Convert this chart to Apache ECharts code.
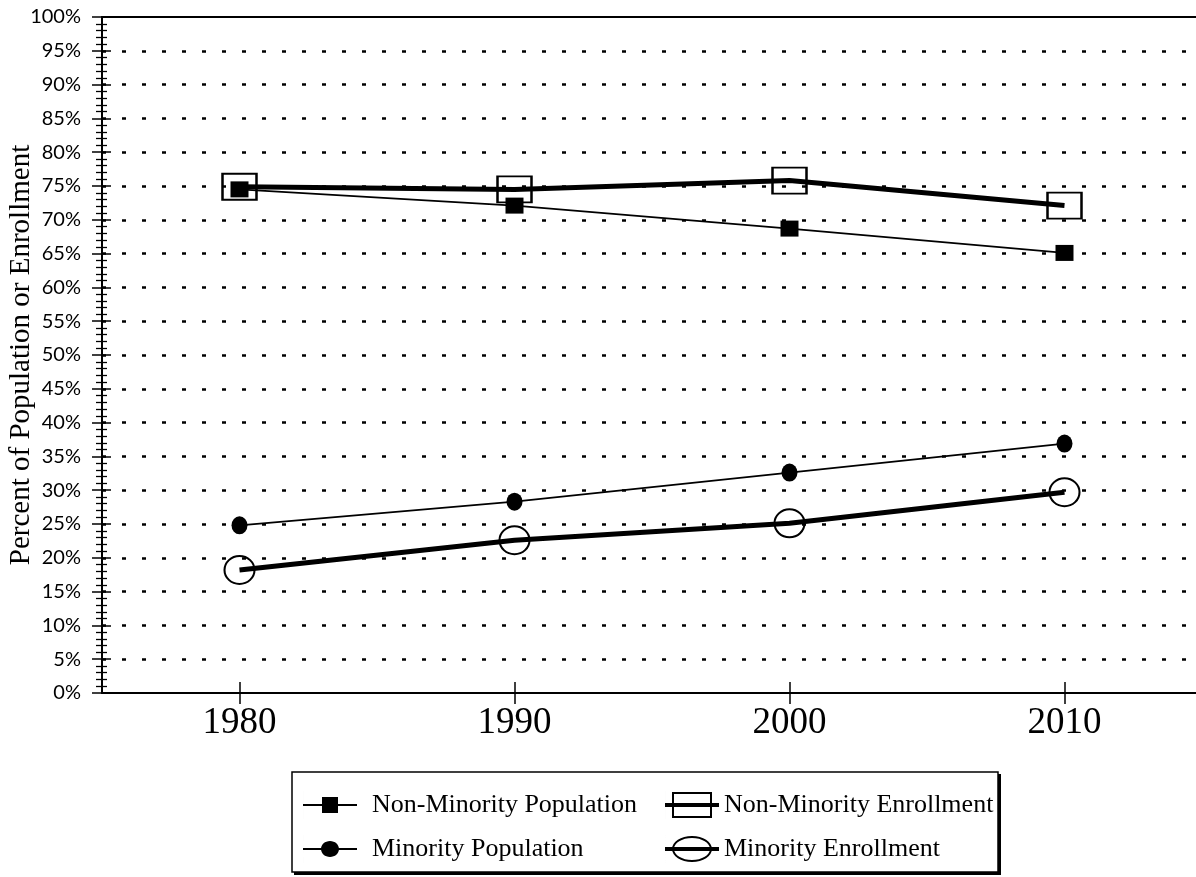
<!DOCTYPE html>
<html>
<head>
<meta charset="utf-8">
<script src="https://cdn.jsdelivr.net/npm/echarts@6/dist/echarts.min.js"></script>
<style>
  html, body { margin: 0; padding: 0; background: #fff; }
  #chart { width: 1196px; height: 877px; }
</style>
</head>
<body>
<div id="chart"></div>
<script>
// data
const years = [1980, 1990, 2000, 2010];
const nonMinorityPopulation = [74.5, 72.1, 68.7, 65.1];
const nonMinorityEnrollment = [74.9, 74.5, 75.8, 72.1];
const minorityPopulation = [24.8, 28.3, 32.6, 36.9];
const minorityEnrollment = [18.2, 22.6, 25.1, 29.7];

const serif = '"Liberation Serif", "DejaVu Serif", serif';
const sans = 'Lato, "Noto Sans", sans-serif';

const pairs = vals => years.map((y, i) => [y, vals[i]]);

// ellipse as bezier path, reverse = true for a hole
function ellipse(cx, cy, rx, ry, reverse) {
  const k = 0.5523, kx = k * rx, ky = k * ry;
  if (!reverse) {
    return `M${cx - rx},${cy}C${cx - rx},${cy - ky} ${cx - kx},${cy - ry} ${cx},${cy - ry}` +
      `C${cx + kx},${cy - ry} ${cx + rx},${cy - ky} ${cx + rx},${cy}` +
      `C${cx + rx},${cy + ky} ${cx + kx},${cy + ry} ${cx},${cy + ry}` +
      `C${cx - kx},${cy + ry} ${cx - rx},${cy + ky} ${cx - rx},${cy}Z`;
  }
  return `M${cx - rx},${cy}C${cx - rx},${cy + ky} ${cx - kx},${cy + ry} ${cx},${cy + ry}` +
    `C${cx + kx},${cy + ry} ${cx + rx},${cy + ky} ${cx + rx},${cy}` +
    `C${cx + rx},${cy - ky} ${cx + kx},${cy - ry} ${cx},${cy - ry}` +
    `C${cx - kx},${cy - ry} ${cx - rx},${cy - ky} ${cx - rx},${cy}Z`;
}

// legend icons: line with marker, 54 x 28 box
const frame = 'M0,0L0.01,0L0.01,28L0,28Z ';
const iconFilledSquare = 'path://' + frame + 'M0,13L54,13L54,15L0,15Z M19,6L35,6L35,22L19,22Z';
const iconFilledCircle = 'path://' + frame + 'M0,13L54,13L54,15L0,15Z ' + ellipse(27, 14, 9, 8);
const iconOpenSquare = 'path://' + frame + 'M7,1L47,1L47,27L7,27Z M9,25L45,25L45,3L9,3Z M0,12L54,12L54,16L0,16Z';
const iconOpenCircle = 'path://' + frame + ellipse(27, 14, 20, 13) + ' ' + ellipse(27, 14, 18, 11, true) + ' M0,12L54,12L54,16L0,16Z';

const chart = echarts.init(document.getElementById('chart'));

const xBase = {
  type: 'value',
  min: 1975,
  max: 2015,
  splitLine: { show: false },
  axisLine: { show: true, lineStyle: { color: '#000', width: 2 } }
};

const yBase = {
  type: 'value',
  min: 0,
  max: 100,
  interval: 5,
  position: 'left',
  axisLine: { show: true, lineStyle: { color: '#000', width: 2 } }
};

const legendBase = {
  orient: 'vertical',
  top: 786,
  itemWidth: 54, itemHeight: 28, itemGap: 16,
  itemStyle: { color: '#000', borderWidth: 0 }
};

chart.setOption({
  animation: false,
  grid: { left: 102, right: -6, top: 17, bottom: 184, containLabel: false, outerBoundsMode: 'none' },
  xAxis: [
    Object.assign({}, xBase, {
      position: 'bottom',
      axisTick: { show: true, inside: false, length: 11, lineStyle: { color: '#000', width: 1.5 }, customValues: years },
      axisLabel: {
        customValues: years, margin: 12,
        formatter: v => String(v),
        color: '#000', fontFamily: serif, fontSize: 37
      }
    }),
    Object.assign({}, xBase, {
      position: 'bottom',
      axisTick: { show: true, inside: true, length: 11, lineStyle: { color: '#000', width: 1.5 }, customValues: years },
      axisLabel: { show: false }
    }),
    Object.assign({}, xBase, {
      position: 'top',
      axisTick: { show: false },
      axisLabel: { show: false }
    })
  ],
  yAxis: [
    Object.assign({}, yBase, {
      name: 'Percent of Population or Enrollment',
      nameLocation: 'middle',
      nameGap: 66,
      nameMoveOverlap: false,
      nameTextStyle: { color: '#000', fontFamily: serif, fontSize: 29 },
      axisTick: { show: true, inside: false, length: 10, lineStyle: { color: '#000', width: 1.5 } },
      minorTick: { show: true, splitNumber: 5, length: 6, lineStyle: { color: '#000', width: 1.3 } },
      axisLabel: {
        formatter: '{value}%', margin: 21,
        color: '#000', fontFamily: sans, fontSize: 20
      },
      splitLine: { show: true, showMinLine: false, showMaxLine: false, lineStyle: { color: '#000', width: 2.5, type: [4, 16] } }
    }),
    Object.assign({}, yBase, {
      axisTick: { show: true, inside: true, length: 9, lineStyle: { color: '#000', width: 1.5 } },
      minorTick: { show: true, splitNumber: 5, length: 5, lineStyle: { color: '#000', width: 1.3 } },
      axisLabel: { show: false },
      splitLine: { show: false }
    })
  ],
  graphic: [
    {
      type: 'rect', z: 1,
      shape: { x: 292, y: 772, width: 706, height: 100 },
      style: { fill: '#fff', stroke: '#000', lineWidth: 1.5 }
    },
    {
      type: 'line', z: 1,
      shape: { x1: 294, y1: 873.5, x2: 1000, y2: 873.5 },
      style: { stroke: '#000', lineWidth: 3 }
    },
    {
      type: 'line', z: 1,
      shape: { x1: 999.5, y1: 774, x2: 999.5, y2: 875 },
      style: { stroke: '#000', lineWidth: 3 }
    }
  ],
  legend: [
    Object.assign({}, legendBase, {
      data: [
        { name: 'Non-Minority Population', icon: iconFilledSquare },
        { name: 'Minority Population', icon: iconFilledCircle }
      ],
      left: 298,
      textStyle: { color: '#000', fontFamily: serif, fontSize: 26, padding: [0, 0, 0, 10] }
    }),
    Object.assign({}, legendBase, {
      data: [
        { name: 'Non-Minority Enrollment', icon: iconOpenSquare },
        { name: 'Minority Enrollment', icon: iconOpenCircle }
      ],
      left: 660,
      textStyle: { color: '#000', fontFamily: serif, fontSize: 26, padding: [0, 0, 0, 0] }
    })
  ],
  series: [
    {
      name: 'Non-Minority Population',
      type: 'line',
      data: pairs(nonMinorityPopulation),
      symbol: 'rect',
      symbolSize: [18, 16],
      lineStyle: { color: '#000', width: 1.8 },
      itemStyle: { color: '#000' }
    },
    {
      name: 'Non-Minority Enrollment',
      type: 'line',
      data: pairs(nonMinorityEnrollment),
      symbol: 'rect',
      symbolSize: [34, 26],
      lineStyle: { color: '#000', width: 5 },
      itemStyle: { color: 'rgba(255,255,255,0)', borderColor: '#000', borderWidth: 2.2 }
    },
    {
      name: 'Minority Population',
      type: 'line',
      data: pairs(minorityPopulation),
      symbol: 'circle',
      symbolSize: [16, 18],
      lineStyle: { color: '#000', width: 1.8 },
      itemStyle: { color: '#000' }
    },
    {
      name: 'Minority Enrollment',
      type: 'line',
      data: pairs(minorityEnrollment),
      symbol: 'circle',
      symbolSize: [30, 28],
      lineStyle: { color: '#000', width: 5 },
      itemStyle: { color: 'rgba(255,255,255,0)', borderColor: '#000', borderWidth: 2 }
    }
  ]
});
</script>
</body>
</html>
